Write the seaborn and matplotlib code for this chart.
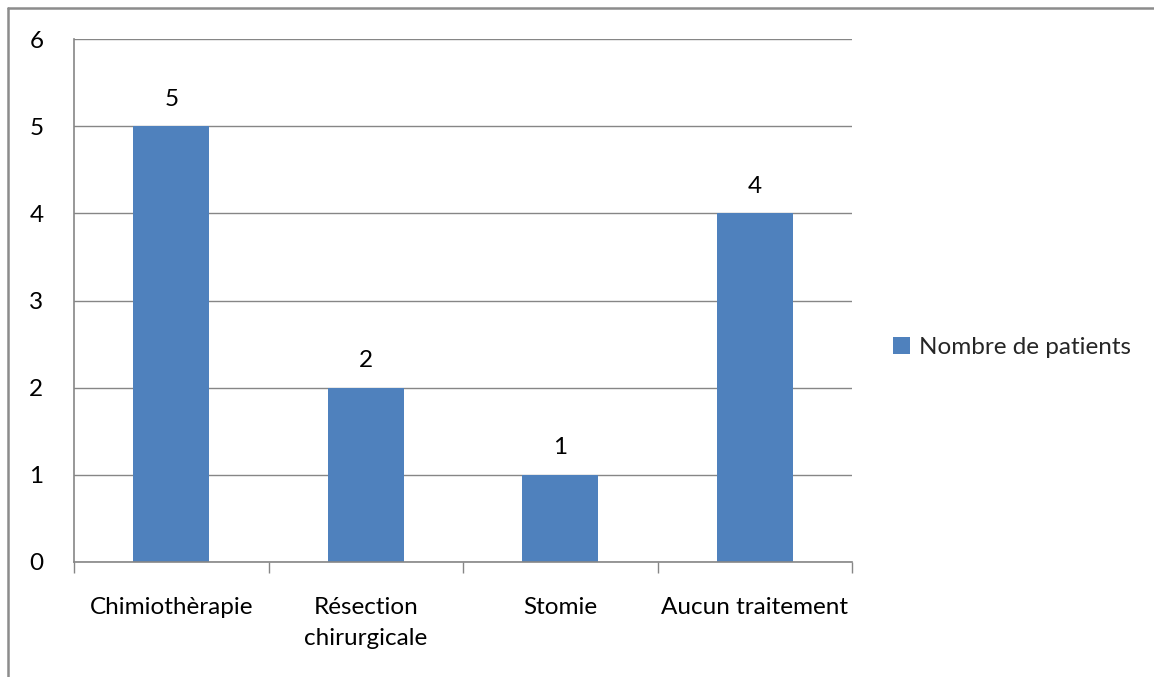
import matplotlib
matplotlib.use("Agg")
import matplotlib.pyplot as plt
from matplotlib.lines import Line2D
from matplotlib.ticker import FixedLocator
import seaborn as sns
import pandas as pd

categories = ["Chimiothèrapie", "Résection\nchirurgicale", "Stomie", "Aucun traitement"]
values = [5, 2, 1, 4]
series_name = "Nombre de patients"
y_ticks = [0, 1, 2, 3, 4, 5, 6]

bar_color = "#4F81BD"
line_color = "#868686"

sns.set_theme(style="white")
plt.rcParams["font.family"] = ["Lato", "DejaVu Sans"]

df = pd.DataFrame({"cat": categories, "val": values, "serie": series_name})

fig = plt.figure(figsize=(11.54, 6.77), dpi=100)
ax = fig.add_axes([74 / 1154, 1 - 562 / 677, (852 - 74) / 1154, (562 - 39) / 677])

sns.barplot(data=df, x="cat", y="val", hue="serie", palette=[bar_color],
            width=0.39, ax=ax, saturation=1, legend=True, linewidth=0)

fs = 17.5
ax.set_xlim(-0.5, len(categories) - 0.5)
ax.set_ylim(0, 6)
ax.set_yticks(y_ticks)
ax.set_xticks(range(len(categories)), categories, linespacing=1.6)
ax.yaxis.grid(True, color=line_color, linewidth=1)
ax.set_axisbelow(True)
ax.set_xlabel("")
ax.set_ylabel("")

for s in ["top", "right"]:
    ax.spines[s].set_visible(False)
for s in ["left", "bottom"]:
    ax.spines[s].set_color(line_color)
    ax.spines[s].set_linewidth(1.2)

ax.tick_params(axis="y", length=8, width=1, color=line_color, pad=14, labelsize=fs, labelcolor="black")
ax.tick_params(axis="x", which="major", length=0, pad=25, labelsize=fs, labelcolor="black")
ax.xaxis.set_minor_locator(FixedLocator([i - 0.5 for i in range(len(categories) + 1)]))
ax.tick_params(axis="x", which="minor", length=8, width=1, color=line_color, bottom=True)

for i, v in enumerate(values):
    ax.annotate(str(v), xy=(i, v), xytext=(0, 12), textcoords="offset points",
                ha="center", va="bottom", fontsize=fs, color="black")

leg = ax.legend(loc="center left", bbox_to_anchor=(1.024, 0.41), frameon=False,
                fontsize=fs, handlelength=0.7, handleheight=0.7, handletextpad=0.4)

# Outer frame of the chart area (top and left edges)
fig.add_artist(Line2D([8 / 1154, 1], [1 - 8 / 677, 1 - 8 / 677], color="#8c8c8c", linewidth=1.8,
                      transform=fig.transFigure))
fig.add_artist(Line2D([8 / 1154, 8 / 1154], [0, 1 - 8 / 677], color="#8c8c8c", linewidth=1.8,
                      transform=fig.transFigure))

fig.savefig("out.png", dpi=100, facecolor="white")
